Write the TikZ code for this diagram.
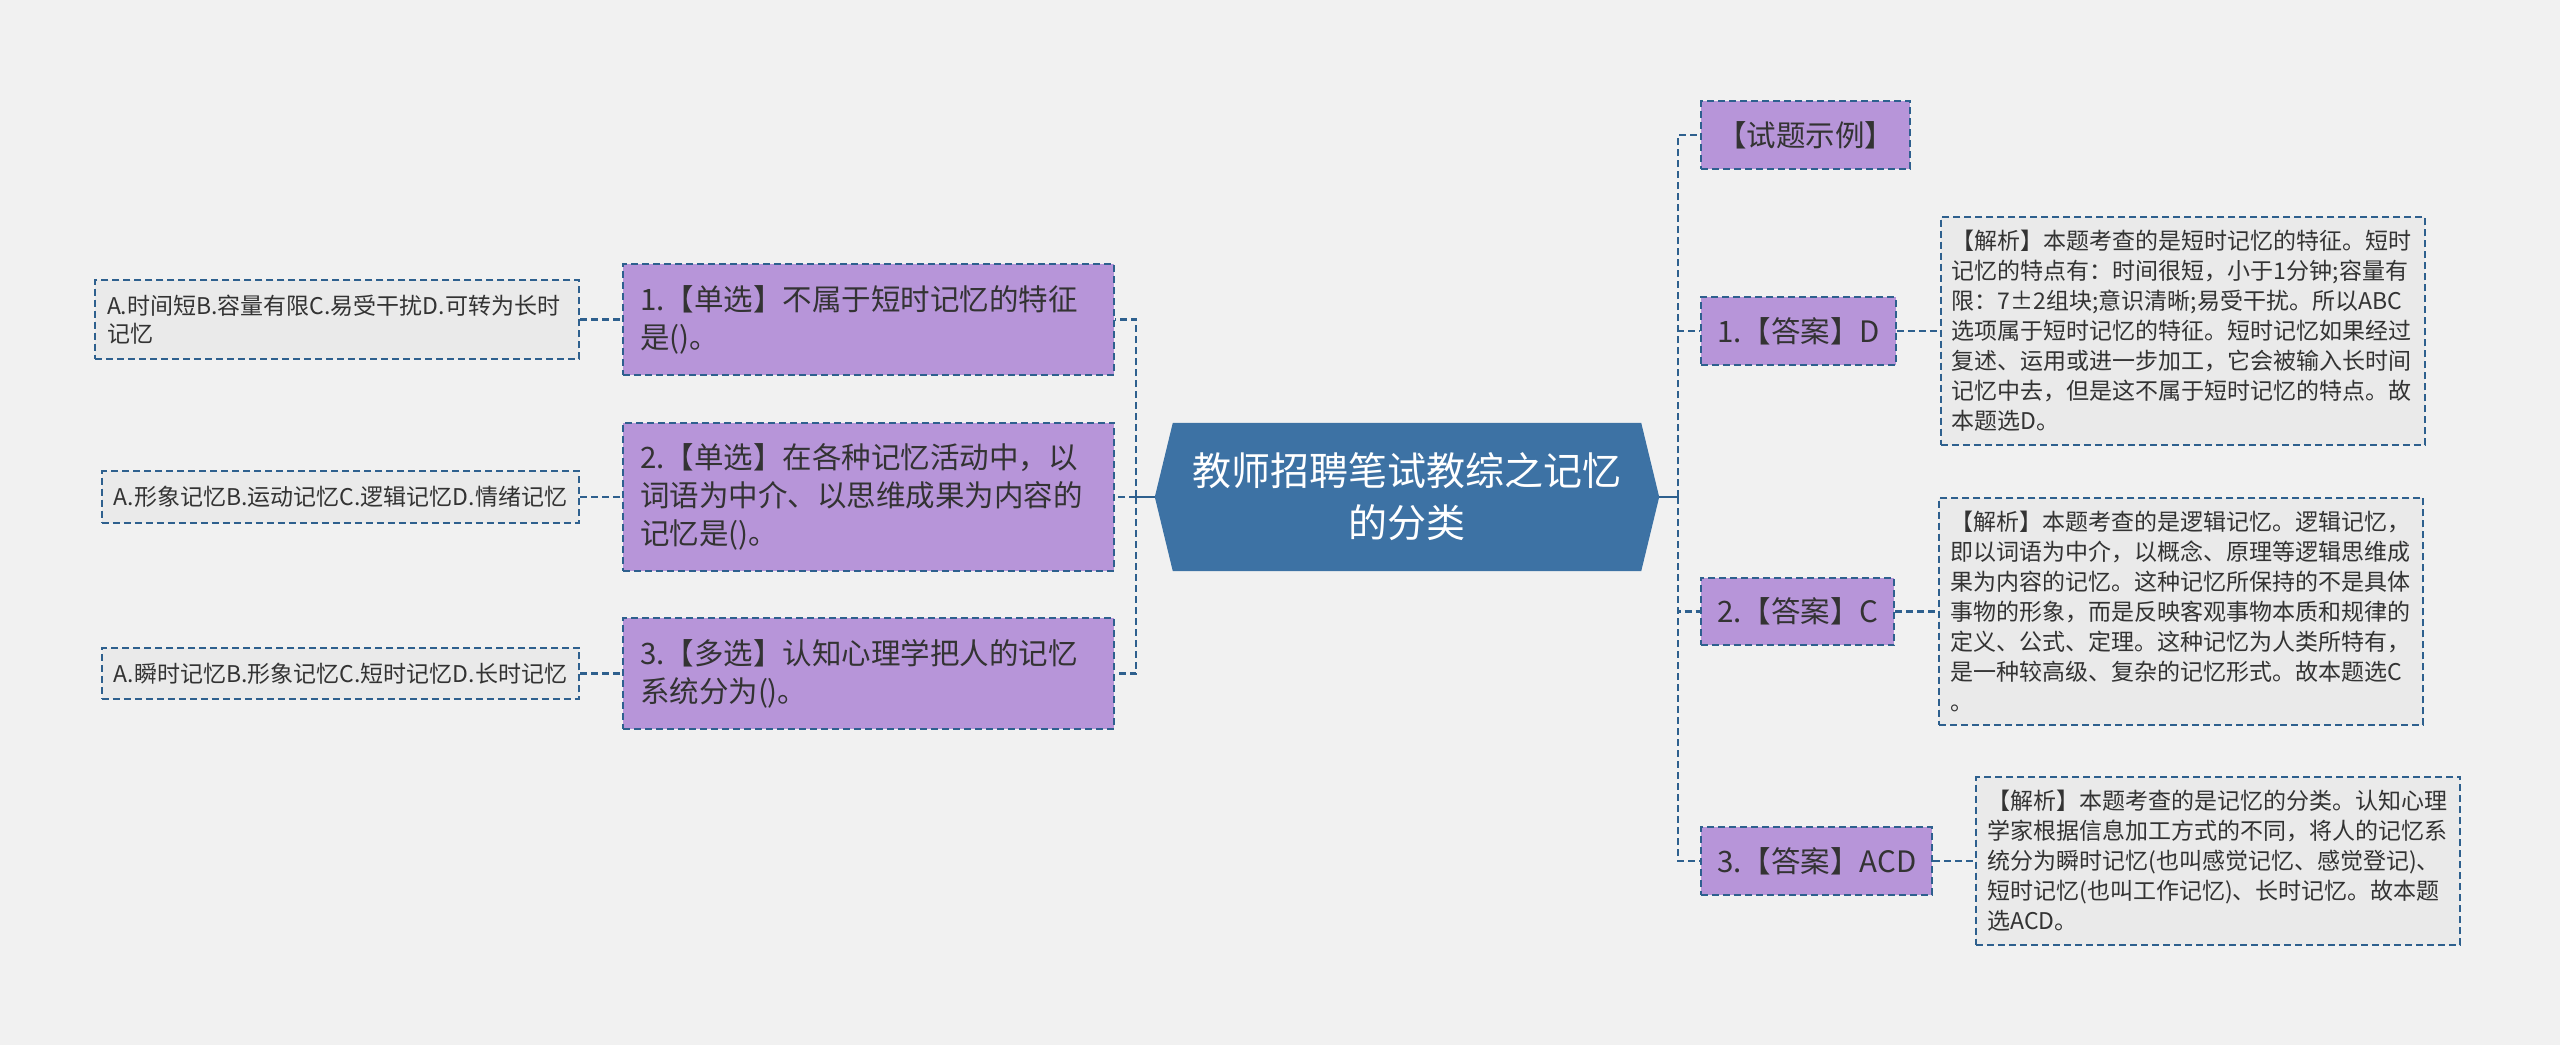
\documentclass[tikz,border=0pt]{standalone}
\usepackage{fontspec}
\setmainfont{Noto Sans CJK SC}
\usepackage{tikz}
\usetikzlibrary{positioning,backgrounds}
\definecolor{lnBlue}{RGB}{46,96,142}
\definecolor{hubBlue}{RGB}{61,114,164}
\definecolor{fPurple}{RGB}{183,149,217}
\definecolor{fGray}{RGB}{234,234,234}
\definecolor{paper}{RGB}{241,241,241}
\definecolor{tGray}{RGB}{51,51,51}

\begin{document}
\begin{tikzpicture}[x=1pt,y=-1pt,
  hub/.style={text=white,align=center,font=\fontsize{39pt}{52pt}\selectfont,minimum width=504pt,minimum height=148pt,inner sep=0pt},
  qs/.style={draw=lnBlue,fill=fPurple,line width=2pt,dash pattern=on 7pt off 4pt,text=tGray,align=left,font=\fontsize{29.5pt}{38pt}\selectfont,text width=457pt,inner xsep=17pt,inner ysep=21pt},
  an/.style={draw=lnBlue,fill=fPurple,line width=2pt,dash pattern=on 7pt off 4pt,text=tGray,font=\fontsize{29.5pt}{38pt}\selectfont,inner xsep=16pt,inner ysep=20pt},
  op/.style={draw=lnBlue,fill=fGray,line width=2pt,dash pattern=on 7pt off 4pt,text=tGray,align=left,font=\fontsize{23pt}{28pt}\selectfont,inner xsep=12pt,inner ysep=15pt},
  nt/.style={draw=lnBlue,fill=fGray,line width=2pt,dash pattern=on 7pt off 4pt,text=tGray,align=left,font=\fontsize{23pt}{30pt}\selectfont,text width=462pt,inner xsep=11pt,inner ysep=13.5pt},
  ln/.style={draw=lnBlue,line width=2.5pt,dash pattern=on 7pt off 4pt},
  lk/.style={draw=lnBlue,line width=2.5pt}]
\node[hub] (cen) at (1407,497) {教师招聘笔试教综之记忆\\的分类};
\begin{scope}[on background layer]
\fill[paper] (0,0) rectangle (2560,1045);
\fill[hubBlue] ([xshift=18pt]cen.north west) -- ([xshift=-18pt]cen.north east) -- (cen.east)
  -- ([xshift=-18pt]cen.south east) -- ([xshift=18pt]cen.south west) -- (cen.west) -- cycle;
\end{scope}
\node[qs,anchor=east] (q1) at (1115,319.5) {1.【单选】不属于短时记忆的特征\\是()。};
\node[qs,anchor=east] (q2) at (1115,497) {2.【单选】在各种记忆活动中，以\\词语为中介、以思维成果为内容的\\记忆是()。};
\node[qs,anchor=east] (q3) at (1115,673.5) {3.【多选】认知心理学把人的记忆\\系统分为()。};
\node[op,left=42pt of q1,text width=460pt] (o1) {A.时间短B.容量有限C.易受干扰D.可转为长时\\记忆};
\node[op,left=42pt of q2] (o2) {A.形象记忆B.运动记忆C.逻辑记忆D.情绪记忆};
\node[op,left=42pt of q3] (o3) {A.瞬时记忆B.形象记忆C.短时记忆D.长时记忆};
\node[an,anchor=west] (r0) at (1700,135) {【试题示例】};
\node[an,anchor=west] (r1) at (1700,331) {1.【答案】D};
\node[an,anchor=west] (r2) at (1700,611.5) {2.【答案】C};
\node[an,anchor=west] (r3) at (1700,861) {3.【答案】ACD};
\node[nt,right=43pt of r1] (a1) {【解析】本题考查的是短时记忆的特征。短时\\记忆的特点有：时间很短，小于1分钟;容量有\\限：7±2组块;意识清晰;易受干扰。所以ABC\\选项属于短时记忆的特征。短时记忆如果经过\\复述、运用或进一步加工，它会被输入长时间\\记忆中去，但是这不属于短时记忆的特点。故\\本题选D。};
\node[nt,right=43pt of r2] (a2) {【解析】本题考查的是逻辑记忆。逻辑记忆，\\即以词语为中介，以概念、原理等逻辑思维成\\果为内容的记忆。这种记忆所保持的不是具体\\事物的形象，而是反映客观事物本质和规律的\\定义、公式、定理。这种记忆为人类所特有，\\是一种较高级、复杂的记忆形式。故本题选C\\。};
\node[nt,right=42pt of r3] (a3) {【解析】本题考查的是记忆的分类。认知心理\\学家根据信息加工方式的不同，将人的记忆系\\统分为瞬时记忆(也叫感觉记忆、感觉登记)、\\短时记忆(也叫工作记忆)、长时记忆。故本题\\选ACD。};
\coordinate (jl) at (1136,497);
\coordinate (jr) at (1678,497);
\draw[lk] (cen.west) -- (jl);
\draw[lk] (cen.east) -- (jr);
\foreach \n in {q1,q2,q3} \draw[ln] (jl) |- (\n.east);
\foreach \n in {r0,r1,r2,r3} \draw[ln] (jr) |- (\n.west);
\foreach \x/\y in {o1/q1,o2/q2,o3/q3,r1/a1,r2/a2,r3/a3} \draw[ln] (\x) -- (\y);
\end{tikzpicture}
\end{document}
